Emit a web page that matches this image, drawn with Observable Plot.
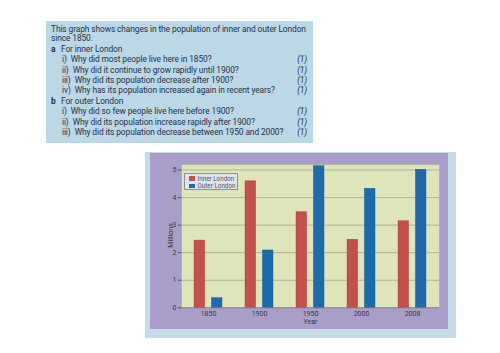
<!DOCTYPE html>
<html>
<head>
<meta charset="utf-8">
<script src="https://cdn.jsdelivr.net/npm/d3@7"></script>
<script src="https://cdn.jsdelivr.net/npm/@observablehq/plot@0.6"></script>
<style>
html, body { margin: 0; padding: 0; background: #ffffff; width: 500px; height: 353px; overflow: hidden; font-family: Roboto, "Liberation Sans", sans-serif; }
#qbox { position: absolute; left: 46px; top: 21px; width: 267px; height: 122px; background: #bcd7e6; color: #26324a; font-size: 8.4px; letter-spacing: -0.1px; box-sizing: border-box; padding: 4px 0 0 5px; }
#qbox p { margin: 0 0 1.7px 0; line-height: 8.6px; }
.row { position: relative; height: 10.4px; line-height: 10.4px; white-space: nowrap; }
.row .l { display: inline-block; width: 10px; font-weight: bold; }
.row.q { padding-left: 11px; }
.row .n { margin-right: 4px; }
.row .m { position: absolute; right: 6px; top: 0; font-style: italic; }
#cbox { position: absolute; left: 145px; top: 152px; width: 311px; height: 186px; background: #c5dbe8; }
#pwrap { position: absolute; left: 5px; top: 1px; width: 298px; height: 176px; background: #a99ec9; }
#pwrap svg { display: block; }
#legend { position: absolute; left: 34px; top: 20px; width: 54px; height: 17px; box-sizing: border-box; background: #dfe3ee; border: 0.7px solid #8d8fa0; font-size: 6.3px; color: #555; padding: 1.5px 0 0 3.5px; }
#legend div { height: 7.5px; line-height: 7.5px; white-space: nowrap; }
#legend span.sw { display: inline-block; width: 6px; height: 4.5px; margin-right: 3px; vertical-align: -0.3px; }
</style>
</head>
<body>
<div id="qbox"></div>
<div id="cbox"><div id="pwrap"><div id="legend"></div></div></div>
<script>
// ---- Text data ----
const introText = "This graph shows changes in the population of inner and outer London since 1850.";
const partA = "For inner London";
const partAQuestions = [
  ["i)", "Why did most people live here in 1850?"],
  ["ii)", "Why did it continue to grow rapidly until 1900?"],
  ["iii)", "Why did its population decrease after 1900?"],
  ["iv)", "Why has its population increased again in recent years?"]
];
const partB = "For outer London";
const partBQuestions = [
  ["i)", "Why did so few people live here before 1900?"],
  ["ii)", "Why did its population increase rapidly after 1900?"],
  ["iii)", "Why did its population decrease between 1950 and 2000?"]
];
const markText = "(1)";

// ---- Chart data ----
const years = ["1850", "1900", "1950", "2000", "2008"];
const innerLondon = [2.44, 4.59, 3.47, 2.47, 3.14];
const outerLondon = [0.35, 2.08, 5.14, 4.32, 5.01];
const yTicks = [0, 1, 2, 3, 4, 5];
const seriesNames = ["Inner London", "Outer London"];
const seriesColors = ["#c4504b", "#1d6aad"];
const seriesStrokes = ["#a53f3b", "#155791"];

// ---- Question box ----
const qbox = document.getElementById("qbox");
const p = document.createElement("p");
p.textContent = introText;
qbox.appendChild(p);
function addHead(letter, text) {
  const d = document.createElement("div");
  d.className = "row h";
  const l = document.createElement("span"); l.className = "l"; l.textContent = letter;
  d.appendChild(l);
  d.appendChild(document.createTextNode(text));
  qbox.appendChild(d);
}
function addQ([n, text]) {
  const d = document.createElement("div");
  d.className = "row q";
  const s = document.createElement("span"); s.className = "n"; s.textContent = n;
  d.appendChild(s);
  d.appendChild(document.createTextNode(text));
  const m = document.createElement("span"); m.className = "m"; m.textContent = markText;
  d.appendChild(m);
  qbox.appendChild(d);
}
addHead("a", partA);
partAQuestions.forEach(addQ);
addHead("b", partB);
partBQuestions.forEach(addQ);

// ---- Legend ----
const legend = document.getElementById("legend");
seriesNames.forEach((name, i) => {
  const d = document.createElement("div");
  const sw = document.createElement("span"); sw.className = "sw"; sw.style.background = seriesColors[i];
  d.appendChild(sw);
  d.appendChild(document.createTextNode(name));
  legend.appendChild(d);
});

// ---- Chart ----
const innerData = years.map((y, i) => ({year: y, value: innerLondon[i]}));
const outerData = years.map((y, i) => ({year: y, value: outerLondon[i]}));

const chart = Plot.plot({
  width: 298,
  height: 176,
  marginLeft: 31,
  marginTop: 11,
  marginRight: 9,
  marginBottom: 21.7,
  style: {background: "transparent", fontFamily: "Roboto, sans-serif", color: "#3a3a3a", overflow: "visible"},
  x: {domain: years, paddingInner: 0.444, paddingOuter: 0.241, label: null},
  y: {domain: [0, 5.2], label: null},
  marks: [
    Plot.frame({fill: "#dfe5bb", stroke: "#a9ad92", strokeWidth: 0.6}),
    Plot.gridY(yTicks.filter(d => d > 0), {stroke: "#5f6655", strokeOpacity: 0.55, strokeWidth: 0.7}),
    Plot.axisY(yTicks, {tickSize: 3, tickPadding: 2, fontSize: 7, label: null, stroke: "#555"}),
    Plot.axisX({tickSize: 0, tickPadding: 3, fontSize: 7, label: null}),
    Plot.barY(innerData, {x: "year", y: "value", fill: seriesColors[0], stroke: seriesStrokes[0], strokeWidth: 0.4, insetRight: 17.4}),
    Plot.barY(outerData, {x: "year", y: "value", fill: seriesColors[1], stroke: seriesStrokes[1], strokeWidth: 0.4, insetLeft: 17.4}),
    Plot.ruleY([0], {stroke: "#6a6a6a", strokeWidth: 0.7}),
    Plot.text(["Millions"], {frameAnchor: "left", rotate: -90, dx: -11, dy: 11.5, fontSize: 7, fill: "#3a3a3a"}),
    Plot.text(["Year"], {frameAnchor: "bottom", dy: 16.5, fontSize: 7, fill: "#3a3a3a"})
  ]
});
document.getElementById("pwrap").insertBefore(chart, document.getElementById("legend"));
</script>
</body>
</html>
